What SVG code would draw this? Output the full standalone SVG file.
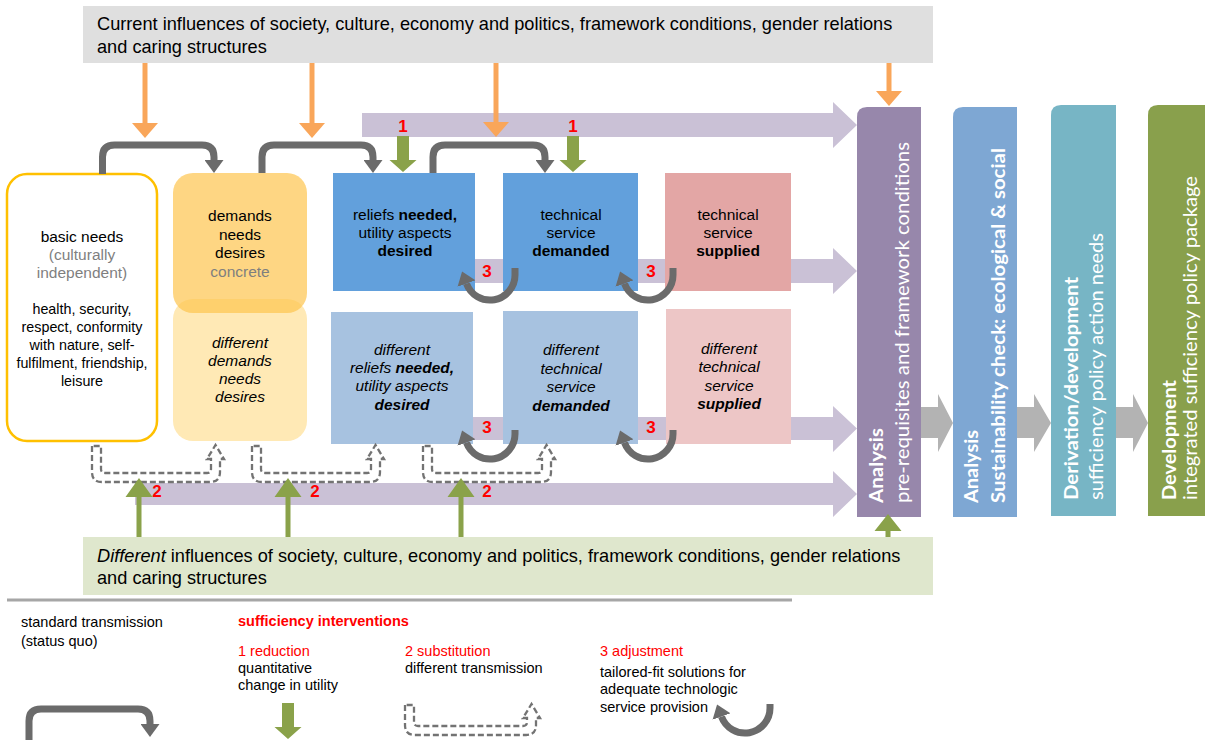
<svg xmlns="http://www.w3.org/2000/svg" width="1205" height="740" viewBox="0 0 1205 740">
<style>
text { font-family: "Liberation Sans", Arial, sans-serif; fill: #000; }
.ban { font-size: 18.2px; }
.bx { font-size: 15.5px; text-anchor: middle; }
.ls { font-size: 14.3px; text-anchor: middle; }
.lg { font-size: 14.5px; }
.red { fill: #ff0000; }
.num { font-size: 17px; font-weight: bold; fill: #ff0000; text-anchor: middle; }
.gr { fill: #7f7f7f; }
.b { font-weight: bold; }
.i { font-style: italic; }
.rot { font-family: Lato, "Open Sans", sans-serif; font-size: 19px; fill: #fff; }
.rb { font-weight: bold; }
.band { fill: #cac1d6; }
.garr { fill: #b3b3b3; }
.std { fill: none; stroke: #6b6b6b; stroke-width: 7; }
.dash { fill: none; stroke: #737373; stroke-width: 2.3; stroke-dasharray: 6 3; }
.org { stroke: #f9a65a; stroke-width: 5; }
.grn { fill: #8aa24a; }
</style>
<defs>
<marker id="hg" markerUnits="userSpaceOnUse" markerWidth="13" markerHeight="19" refX="0" refY="9.5" orient="auto" viewBox="0 0 13 19"><path d="M0,0 L13,9.5 L0,19 Z" fill="#6b6b6b"/></marker>
<marker id="ho" markerUnits="userSpaceOnUse" markerWidth="15" markerHeight="26" refX="0" refY="13" orient="auto" viewBox="0 0 15 26"><path d="M0,0 L15,13 L0,26 Z" fill="#f9a65a"/></marker>
<path id="gdown" d="M-6,0 H6 V24 H13.5 L0,36 L-13.5,24 H-6 Z"/>
<path id="gup" d="M-2.5,0 V-40 H-13.5 L0,-59 L13.5,-40 H2.5 V0 Z"/>
<path id="dsh" d="M92,446 V472 Q92,482 102,482 H210 Q220,482 220,472 V459 H224 L215.5,445 L207,459 H211 V469 Q211,473 207,473 H105 Q101,473 101,469 V446 Z"/>
</defs>

<!-- banners -->
<g id="top-banner">
<rect x="83" y="6" width="850" height="57" fill="#dfdfdf"/>
<text class="ban" x="97" y="30">Current influences of society, culture, economy and politics, framework conditions, gender relations</text>
<text class="ban" x="97" y="53">and caring structures</text>
</g>
<g id="bottom-banner">
<rect x="83" y="537" width="850" height="58" fill="#dfe7cd"/>
<text class="ban" x="97" y="562"><tspan class="i">Different</tspan> influences of society, culture, economy and politics, framework conditions, gender relations</text>
<text class="ban" x="97" y="584">and caring structures</text>
</g>

<!-- purple bands -->
<g id="bands">
<path class="band" d="M362,113 H833 V102 L857,125 L833,148 V137 H362 Z"/>
<path class="band" d="M470,259 H833 V248 L857,271 L833,294 V283 H470 Z"/>
<path class="band" d="M470,417 H833 V406 L857,428.5 L833,452 V440 H470 Z"/>
<path class="band" d="M135,483 H833 V471 L857,494 L833,517 V505 H135 Z"/>
</g>

<!-- right column boxes -->
<g id="analysis-prerequisites">
<path d="M867,107 H921 V517 H857 V117 Q857,107 867,107 Z" fill="#9787ab"/>
<text class="rot rb" transform="translate(883,503) rotate(-90)" textLength="75" lengthAdjust="spacingAndGlyphs">Analysis</text>
<text class="rot" transform="translate(909,503) rotate(-90)" textLength="361" lengthAdjust="spacingAndGlyphs">pre-requisites and framework conditions</text>
</g>
<g id="analysis-sustainability">
<path d="M963,107 H1017 V517 H953 V117 Q953,107 963,107 Z" fill="#7ea7d3"/>
<text class="rot rb" transform="translate(978,503) rotate(-90)" textLength="73" lengthAdjust="spacingAndGlyphs">Analysis</text>
<text class="rot rb" transform="translate(1005,503) rotate(-90)" textLength="355" lengthAdjust="spacingAndGlyphs">Sustainability check: ecological &amp; social</text>
</g>
<g id="derivation">
<path d="M1061,105 H1116 V516 H1051 V115 Q1051,105 1061,105 Z" fill="#77b5c5"/>
<text class="rot rb" transform="translate(1078,500) rotate(-90)" textLength="223" lengthAdjust="spacingAndGlyphs">Derivation/development</text>
<text class="rot" transform="translate(1103,500) rotate(-90)" textLength="267" lengthAdjust="spacingAndGlyphs">sufficiency policy action needs</text>
</g>
<g id="development">
<path d="M1158,105 H1210 V516 H1148 V115 Q1148,105 1158,105 Z" fill="#89a04c"/>
<text class="rot rb" transform="translate(1176,500) rotate(-90)" textLength="120" lengthAdjust="spacingAndGlyphs">Development</text>
<text class="rot" transform="translate(1197,500) rotate(-90)" textLength="324" lengthAdjust="spacingAndGlyphs">integrated sufficiency policy package</text>
</g>

<!-- main nodes -->
<g id="basic-needs">
<rect x="7" y="174" width="150" height="267" rx="20" fill="#fff" stroke="#ffc000" stroke-width="2.5"/>
<text class="bx" x="82" y="242">basic needs</text>
<text class="bx gr" x="82" y="260">(culturally</text>
<text class="bx gr" x="82" y="278">independent)</text>
<text class="ls" x="82" y="314">health, security,</text>
<text class="ls" x="82" y="332">respect, conformity</text>
<text class="ls" x="82" y="350">with nature, self-</text>
<text class="ls" x="82" y="368">fulfilment, friendship,</text>
<text class="ls" x="82" y="386">leisure</text>
</g>
<g id="different-demands">
<rect x="173" y="299" width="134" height="142" rx="20" fill="#ffe9b5"/>
<text class="bx i" x="240" y="348">different</text>
<text class="bx i" x="240" y="366">demands</text>
<text class="bx i" x="240" y="384">needs</text>
<text class="bx i" x="240" y="402">desires</text>
</g>
<g id="demands">
<rect x="173" y="173" width="134" height="140" rx="20" fill="#fdc44f" fill-opacity="0.7"/>
<text class="bx" x="240" y="221">demands</text>
<text class="bx" x="240" y="240">needs</text>
<text class="bx" x="240" y="258">desires</text>
<text class="bx gr" x="240" y="277">concrete</text>
</g>
<g id="reliefs">
<rect x="333" y="173" width="142" height="118" fill="#62a0dc"/>
<text class="bx" x="405" y="220">reliefs <tspan class="b">needed,</tspan></text>
<text class="bx" x="405" y="238">utility aspects</text>
<text class="bx b" x="405" y="256">desired</text>
</g>
<g id="service-demanded">
<rect x="503" y="173" width="135" height="118" fill="#62a0dc"/>
<text class="bx" x="571" y="220">technical</text>
<text class="bx" x="571" y="238">service</text>
<text class="bx b" x="571" y="256">demanded</text>
</g>
<g id="service-supplied">
<rect x="665" y="173" width="126" height="118" fill="#e3a6a5"/>
<text class="bx" x="728" y="220">technical</text>
<text class="bx" x="728" y="238">service</text>
<text class="bx b" x="728" y="256">supplied</text>
</g>
<g id="different-reliefs">
<rect x="331" y="312" width="142" height="132" fill="#a7c2e0"/>
<text class="bx i" x="402" y="355">different</text>
<text class="bx i" x="402" y="373">reliefs <tspan class="b">needed,</tspan></text>
<text class="bx i" x="402" y="391">utility aspects</text>
<text class="bx i b" x="402" y="410">desired</text>
</g>
<g id="different-service-demanded">
<rect x="503" y="311" width="135" height="133" fill="#a7c2e0"/>
<text class="bx i" x="571" y="355">different</text>
<text class="bx i" x="571" y="374">technical</text>
<text class="bx i" x="571" y="392">service</text>
<text class="bx i b" x="571" y="411">demanded</text>
</g>
<g id="different-service-supplied">
<rect x="666" y="309" width="125" height="135" fill="#edc6c6"/>
<text class="bx i" x="729" y="354">different</text>
<text class="bx i" x="729" y="372">technical</text>
<text class="bx i" x="729" y="391">service</text>
<text class="bx i b" x="729" y="409">supplied</text>
</g>

<!-- connectors -->
<g id="connectors">
<path class="garr" d="M921,407 H938 V394 L953,423 L938,452 V438 H921 Z"/>
<path class="garr" d="M1017,407 H1034 V394 L1051,423 L1034,452 V438 H1017 Z"/>
<path class="garr" d="M1116,407 H1133 V394 L1148,423 L1133,452 V438 H1116 Z"/>
<line class="org" x1="145" y1="63" x2="145" y2="123" marker-end="url(#ho)"/>
<line class="org" x1="312" y1="63" x2="312" y2="123" marker-end="url(#ho)"/>
<line class="org" x1="496" y1="63" x2="496" y2="122" marker-end="url(#ho)"/>
<line class="org" x1="889" y1="63" x2="889" y2="91" marker-end="url(#ho)"/>
<path class="std" d="M102.5,174 V157 Q102.5,145 114.5,145 H202 Q214,145 214,157 V160" marker-end="url(#hg)"/>
<path class="std" d="M262,173 V157 Q262,145 274,145 H361 Q373,145 373,157 V160" marker-end="url(#hg)"/>
<path class="std" d="M433,173 V157 Q433,145 445,145 H533 Q545,145 545,157 V160" marker-end="url(#hg)"/>
<use href="#gdown" x="403" y="136" class="grn"/>
<use href="#gdown" x="573" y="136" class="grn"/>
<path class="std" d="M515,268 V275 A25,25 0 0 1 466.5,283.6" marker-end="url(#hg)"/>
<path class="std" d="M673,268 V275 A25,25 0 0 1 624.5,283.6" marker-end="url(#hg)"/>
<path class="std" d="M515,430 V434 A25,25 0 0 1 466.5,442.6" marker-end="url(#hg)"/>
<path class="std" d="M673,430 V434 A25,25 0 0 1 624.5,442.6" marker-end="url(#hg)"/>
<use href="#dsh" class="dash"/>
<use href="#dsh" class="dash" transform="translate(160,0)"/>
<use href="#dsh" class="dash" transform="translate(331,0)"/>
<use href="#gup" x="139" y="537" class="grn"/>
<use href="#gup" x="288" y="537" class="grn"/>
<use href="#gup" x="461" y="537" class="grn"/>
<path class="grn" d="M885.5,537 V531 H874.5 L888,514 L901.5,531 H890.5 V537 Z"/>
<text class="num" x="403" y="132">1</text>
<text class="num" x="573" y="132">1</text>
<text class="num" x="487" y="277">3</text>
<text class="num" x="651" y="277">3</text>
<text class="num" x="487" y="433">3</text>
<text class="num" x="651" y="433">3</text>
<text class="num" x="157" y="497">2</text>
<text class="num" x="315" y="497">2</text>
<text class="num" x="487" y="497">2</text>
</g>

<!-- legend -->
<g id="legend">
<line x1="7" y1="600" x2="792" y2="600" stroke="#a6a6a6" stroke-width="3"/>
<text class="lg" x="21" y="627">standard transmission</text>
<text class="lg" x="21" y="646">(status quo)</text>
<path class="std" d="M29,745 V721 Q29,709 41,709 H138 Q150,709 150,721 V724" marker-end="url(#hg)"/>
<text class="lg red b" x="238" y="626">sufficiency interventions</text>
<text class="lg red" x="238" y="656">1 reduction</text>
<text class="lg" x="238" y="673">quantitative</text>
<text class="lg" x="238" y="690">change in utility</text>
<use href="#gdown" x="288" y="703" class="grn"/>
<text class="lg red" x="405" y="656">2 substitution</text>
<text class="lg" x="405" y="673">different transmission</text>
<path class="dash" d="M405,705 V725 Q405,735 415,735 H526 Q536,735 536,725 V718 H540 L531.5,704 L523,718 H527 V722 Q527,726 523,726 H418 Q414,726 414,722 V705 Z"/>
<text class="lg red" x="600" y="656">3 adjustment</text>
<text class="lg" x="600" y="677">tailored-fit solutions for</text>
<text class="lg" x="600" y="694">adequate technologic</text>
<text class="lg" x="600" y="712">service provision</text>
<path class="std" d="M770,704 V708 A25,25 0 0 1 721.5,716.6" marker-end="url(#hg)"/>
</g>
</svg>
